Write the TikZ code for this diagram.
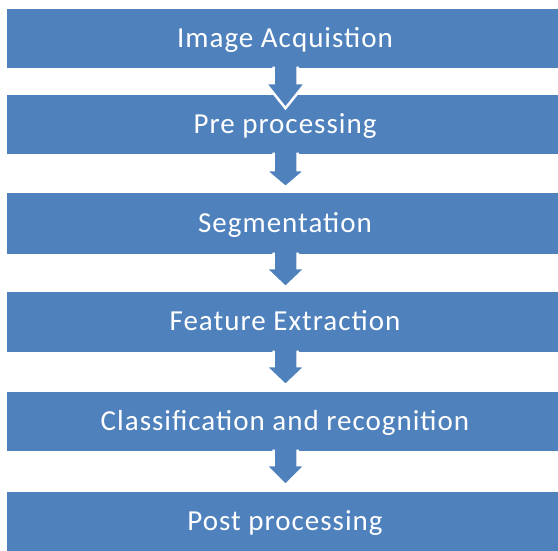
\documentclass[tikz,border=0pt]{standalone}
\usepackage{fontspec}
\setmainfont{Carlito}[LetterSpace=3.5]
\usetikzlibrary{calc}
\definecolor{officeblue}{RGB}{79,129,189}
\tikzset{
  stagebox/.style={rectangle, fill=officeblue, draw=none, text=white,
    minimum width=551pt, inner sep=0pt, text height=24pt, text depth=6pt,
    font=\fontsize{29}{34}\selectfont},
  flowarrow/.style={fill=officeblue, draw=white, line width=2.5pt, line join=miter}
}
\begin{document}
\begin{tikzpicture}[x=1pt,y=1pt]
\useasboundingbox (0,0) rectangle (558,551);
\node[stagebox, minimum height=58.5pt] (b1) at (282.5,512.25) {\hspace*{5pt}Image Acquistion};
\node[stagebox, minimum height=59pt] (b2) at (282.5,426.5) {\hspace*{5pt}Pre processing};
\node[stagebox, minimum height=61pt] (b3) at (282.5,327.5) {\hspace*{5pt}Segmentation};
\node[stagebox, minimum height=60pt] (b4) at (282.5,229) {\hspace*{5pt}Feature Extraction};
\node[stagebox, minimum height=59pt] (b5) at (282.5,129.5) {\hspace*{5pt}Classification and recognition};
\node[stagebox, minimum height=59pt] (b6) at (282.5,29.5) {\hspace*{5pt}Post processing};
% arrows: shaft from box bottom, head length, tip
\foreach \a/\b/\h/\t in {b1/b2/15/40, b2/b3/16/33, b3/b4/14/33, b4/b5/14/33, b5/b6/14/34}{
  \coordinate (s) at ($(\a.south)+(3,1.5)$);
  \path[flowarrow] ($(s)+(-12,0)$) -- ($(s)+(-12,-\h-1.5)$) -- ($(s)+(-20,-\h-1.5)$)
    -- ($(s)+(0,-\t-1.5)$) -- ($(s)+(20,-\h-1.5)$) -- ($(s)+(12,-\h-1.5)$)
    -- ($(s)+(12,0)$);
  \fill[officeblue] ($(s)+(-10.7,0)$) rectangle ($(s)+(10.7,-3)$);
}
\end{tikzpicture}
\end{document}
